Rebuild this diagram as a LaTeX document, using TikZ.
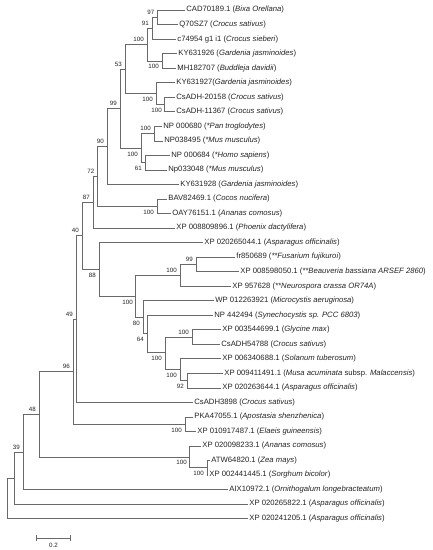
\documentclass[tikz,border=0pt]{standalone}
\usepackage{fontspec}
\setmainfont{Liberation Sans}
\usetikzlibrary{positioning,arrows}
\definecolor{treegray}{RGB}{105,105,105}
\definecolor{labelgray}{RGB}{35,35,35}
\tikzset{
	leaf/.style={draw=none,anchor=west,inner sep=1.2pt,text=labelgray,font=\fontsize{7.7}{9}\selectfont},
	boot/.style={draw=none,inner sep=0pt,text=labelgray,font=\fontsize{6.2}{7}\selectfont},
	branch/.style={draw=treegray,line width=0.6pt}
}

\begin{document}
\begin{tikzpicture}[x=1pt,y=-1pt]
		\useasboundingbox (0,0) rectangle (433,550);
		\coordinate (n97) at (157,17.2);
		\coordinate (n91) at (152,28.1);
		\coordinate (n100a) at (147,44.5);
		\coordinate (n100b) at (162,60.8);
		\coordinate (n53) at (125,69.1);
		\coordinate (n100c) at (156,93.6);
		\coordinate (n100d) at (164,104.5);
		\coordinate (n99) at (120,108.5);
		\coordinate (nA) at (141,148);
		\coordinate (n100e) at (154,133.5);
		\coordinate (nB) at (145,162.5);
		\coordinate (n90) at (107,146.4);
		\coordinate (n72) at (97,176.5);
		\coordinate (n100f) at (157,206.2);
		\coordinate (n87) at (93,202.2);
		\coordinate (n40) at (82,235.7);
		\coordinate (n88) at (99,269.2);
		\coordinate (n100g) at (135,296);
		\coordinate (n100h) at (180,275.2);
		\coordinate (n99b) at (196,264.3);
		\coordinate (n80) at (143,317.1);
		\coordinate (n64) at (147,333.7);
		\coordinate (n100i) at (165,352.3);
		\coordinate (n100j) at (192,337);
		\coordinate (n100k) at (180,369.1);
		\coordinate (n92) at (187,380.5);
		\coordinate (n49) at (76,319);
		\coordinate (n96) at (73,371.5);
		\coordinate (n100l) at (185,424.1);
		\coordinate (n48) at (39,414.2);
		\coordinate (n100m) at (189,456.8);
		\coordinate (n100n) at (207,467.7);
		\coordinate (n39) at (23,451.8);
		\coordinate (nC) at (14,477.9);
		\coordinate (root) at (7,498.2);

		\node[leaf](cad) at (185,10){CAD70189.1 (\textit{Bixa Orellana})};
		\draw[branch] (n97) |- (cad.west);
		\node[leaf](q70) at (178,24.5){Q70SZ7 (\textit{Crocus sativus})};
		\draw[branch] (n97) |- (q70.west);
		\draw[branch] (n91) |- (n97);
		\node[leaf](c749) at (176,39.1){c74954 g1 i1 (\textit{Crocus sieberi})};
		\draw[branch] (n91) |- (c749.west);
		\draw[branch] (n100a) |- (n91);
		\node[leaf](ky926) at (177,53.6){KY631926 (\textit{Gardenia jasminoides})};
		\draw[branch] (n100b) |- (ky926.west);
		\node[leaf](mh) at (176,68.1){MH182707 (\textit{Buddleja davidii})};
		\draw[branch] (n100b) |- (mh.west);
		\draw[branch] (n100a) |- (n100b);
		\draw[branch] (n53) |- (n100a);
		\node[leaf](ky927) at (175,82.7){KY631927(\textit{Gardenia jasminoides})};
		\draw[branch] (n100c) |- (ky927.west);
		\node[leaf](cs20158) at (175,97.2){CsADH-20158 (\textit{Crocus sativus})};
		\draw[branch] (n100d) |- (cs20158.west);
		\node[leaf](cs11367) at (175,111.7){CsADH-11367 (\textit{Crocus sativus})};
		\draw[branch] (n100d) |- (cs11367.west);
		\draw[branch] (n100c) |- (n100d);
		\draw[branch] (n53) |- (n100c);
		\draw[branch] (n99) |- (n53);
		\node[leaf](np680) at (162,126.2){NP 000680 (\textit{*Pan troglodytes})};
		\draw[branch] (n100e) |- (np680.west);
		\node[leaf](np38495) at (163,140.8){NP038495 (\textit{*Mus musculus})};
		\draw[branch] (n100e) |- (np38495.west);
		\node[leaf](np684) at (170,155.3){NP 000684 (\textit{*Homo sapiens})};
		\draw[branch] (nB) |- (np684.west);
		\node[leaf](np33048) at (167,169.8){Np033048 (\textit{*Mus musculus})};
		\draw[branch] (nB) |- (np33048.west);
		\draw[branch] (nA) |- (n100e);
		\draw[branch] (nA) |- (nB);
		\draw[branch] (n99) |- (nA);
		\draw[branch] (n90) |- (n99);
		\node[leaf](ky928) at (179,184.4){KY631928 (\textit{Gardenia jasminoides})};
		\draw[branch] (n90) |- (ky928.west);
		\draw[branch] (n72) |- (n90);
		\node[leaf](bav) at (167,198.9){BAV82469.1 (\textit{Cocos nucifera})};
		\draw[branch] (n100f) |- (bav.west);
		\node[leaf](oay) at (171,213.4){OAY76151.1 (\textit{Ananas comosus})};
		\draw[branch] (n100f) |- (oay.west);
		\draw[branch] (n72) |- (n100f);
		\draw[branch] (n87) |- (n72);
		\node[leaf](xp880) at (175,228){XP 008809896.1 (\textit{Phoenix dactylifera})};
		\draw[branch] (n87) |- (xp880.west);
		\draw[branch] (n40) |- (n87);
		\node[leaf](xp265044) at (203,242.5){XP 020265044.1 (\textit{Asparagus officinalis})};
		\draw[branch] (n88) |- (xp265044.west);
		\node[leaf](fr) at (235,257){fr850689 (\textit{**Fusarium fujikuroi})};
		\draw[branch] (n99b) |- (fr.west);
		\node[leaf](xp859) at (239,271.5){XP 008598050.1 (\textit{**Beauveria bassiana ARSEF 2860})};
		\draw[branch] (n99b) |- (xp859.west);
		\draw[branch] (n100h) |- (n99b);
		\node[leaf](xp957) at (231,286.1){XP 957628 (\textit{**Neurospora crassa OR74A})};
		\draw[branch] (n100h) |- (xp957.west);
		\draw[branch] (n100g) |- (n100h);
		\node[leaf](wp) at (214,300.6){WP 012263921 (\textit{Microcystis aeruginosa})};
		\draw[branch] (n80) |- (wp.west);
		\node[leaf](np442) at (213,315.1){NP 442494 (\textit{Synechocystis sp. PCC 6803})};
		\draw[branch] (n64) |- (np442.west);
		\node[leaf](xp354) at (221,329.7){XP 003544699.1 (\textit{Glycine max})};
		\draw[branch] (n100j) |- (xp354.west);
		\node[leaf](cs54788) at (220,344.2){CsADH54788 (\textit{Crocus sativus})};
		\draw[branch] (n100j) |- (cs54788.west);
		\draw[branch] (n100i) |- (n100j);
		\node[leaf](xp634) at (221,358.7){XP 006340688.1 (\textit{Solanum tuberosum})};
		\draw[branch] (n100k) |- (xp634.west);
		\node[leaf](xp941) at (223,373.2){XP 009411491.1 (\textit{Musa acuminata} subsp. \textit{Malaccensis})};
		\draw[branch] (n92) |- (xp941.west);
		\node[leaf](xp263644) at (221,387.8){XP 020263644.1 (\textit{Asparagus officinalis})};
		\draw[branch] (n92) |- (xp263644.west);
		\draw[branch] (n100k) |- (n92);
		\draw[branch] (n100i) |- (n100k);
		\draw[branch] (n64) |- (n100i);
		\draw[branch] (n80) |- (n64);
		\draw[branch] (n100g) |- (n80);
		\draw[branch] (n88) |- (n100g);
		\draw[branch] (n40) |- (n88);
		\draw[branch] (n49) |- (n40);
		\node[leaf](cs3898) at (193,402.3){CsADH3898 (\textit{Crocus sativus})};
		\draw[branch] (n49) |- (cs3898.west);
		\draw[branch] (n96) |- (n49);
		\node[leaf](pka) at (193,416.8){PKA47055.1 (\textit{Apostasia shenzhenica})};
		\draw[branch] (n100l) |- (pka.west);
		\node[leaf](xp1091) at (196,431.4){XP 010917487.1 (\textit{Elaeis guineensis})};
		\draw[branch] (n100l) |- (xp1091.west);
		\draw[branch] (n96) |- (n100l);
		\draw[branch] (n48) |- (n96);
		\node[leaf](xp2009) at (201,445.9){XP 020098233.1 (\textit{Ananas comosus})};
		\draw[branch] (n100m) |- (xp2009.west);
		\node[leaf](atw) at (210,460.4){ATW64820.1 (\textit{Zea mays})};
		\draw[branch] (n100n) |- (atw.west);
		\node[leaf](xp244) at (208,474.9){XP 002441445.1 (\textit{Sorghum bicolor})};
		\draw[branch] (n100n) |- (xp244.west);
		\draw[branch] (n100m) |- (n100n);
		\draw[branch] (n48) |- (n100m);
		\draw[branch] (n39) |- (n48);
		\node[leaf](aix) at (228,489.5){AIX10972.1 (\textit{Ornithogalum longebracteatum})};
		\draw[branch] (n39) |- (aix.west);
		\draw[branch] (nC) |- (n39);
		\node[leaf](xp265822) at (248,504){XP 020265822.1 (\textit{Asparagus officinalis})};
		\draw[branch] (nC) |- (xp265822.west);
		\draw[branch] (root) |- (nC);
		\node[leaf](xp241205) at (248,518.5){XP 020241205.1 (\textit{Asparagus officinalis})};
		\draw[branch] (root) |- (xp241205.west);

		\node[boot,above left=2.5pt and 2.5pt of n97](b97){97};
		\node[boot,above left=2.5pt and 3pt of n91](b91){91};
		\node[boot,above left=2.5pt and 3pt of n100a](b100a){100};
		\node[boot,below left=3.5pt and 3pt of n100b](b100b){100};
		\node[boot,above left=2.5pt and 3pt of n53](b53){53};
		\node[boot,below left=3.5pt and 3pt of n100c](b100c){100};
		\node[boot,below left=3.5pt and 2pt of n100d](b100d){100};
		\node[boot,above left=2.5pt and 3pt of n99](b99){99};
		\node[boot,above left=2.5pt and 3pt of n100e](b100e){100};
		\node[boot,below left=3.5pt and 3pt of nA](bA){100};
		\node[boot,below left=3.5pt and 3pt of nB](bB){61};
		\node[boot,above left=2.5pt and 3pt of n90](b90){90};
		\node[boot,above left=2.5pt and 2.5pt of n72](b72){72};
		\node[boot,below left=3.5pt and 3pt of n100f](b100f){100};
		\node[boot,above left=2.5pt and 3pt of n87](b87){87};
		\node[boot,above left=2.5pt and 3pt of n40](b40){40};
		\node[boot,above left=2.5pt and 3pt of n99b](b99b){99};
		\node[boot,above left=2.5pt and 3pt of n100h](b100h){100};
		\node[boot,below left=3.5pt and 3pt of n88](b88){88};
		\node[boot,below left=3.5pt and 2pt of n100g](b100g){100};
		\node[boot,below left=3.5pt and 3pt of n80](b80){80};
		\node[boot,above left=2.5pt and 3pt of n100j](b100j){100};
		\node[boot,below left=3.5pt and 3pt of n64](b64){64};
		\node[boot,below left=3.5pt and 3pt of n100i](b100i){100};
		\node[boot,below left=3.5pt and 3pt of n100k](b100k){100};
		\node[boot,below left=3.5pt and 3pt of n92](b92){92};
		\node[boot,above left=2.5pt and 3pt of n49](b49){49};
		\node[boot,above left=2.5pt and 3pt of n96](b96){96};
		\node[boot,below left=3.5pt and 3pt of n100l](b100l){100};
		\node[boot,above left=2.5pt and 3pt of n48](b48){48};
		\node[boot,below left=3.5pt and 2pt of n100m](b100m){100};
		\node[boot,below left=3.5pt and 3pt of n100n](b100n){100};
		\node[boot,above left=2.5pt and 3pt of n39](b39){39};

		\coordinate (barl) at (36,538);
		\coordinate (barr) at (71,538);
		\draw[branch,|-|] (barl) -- (barr) node[boot,midway,below=4.5pt](barlabel){0.2};
\end{tikzpicture}
\end{document}
